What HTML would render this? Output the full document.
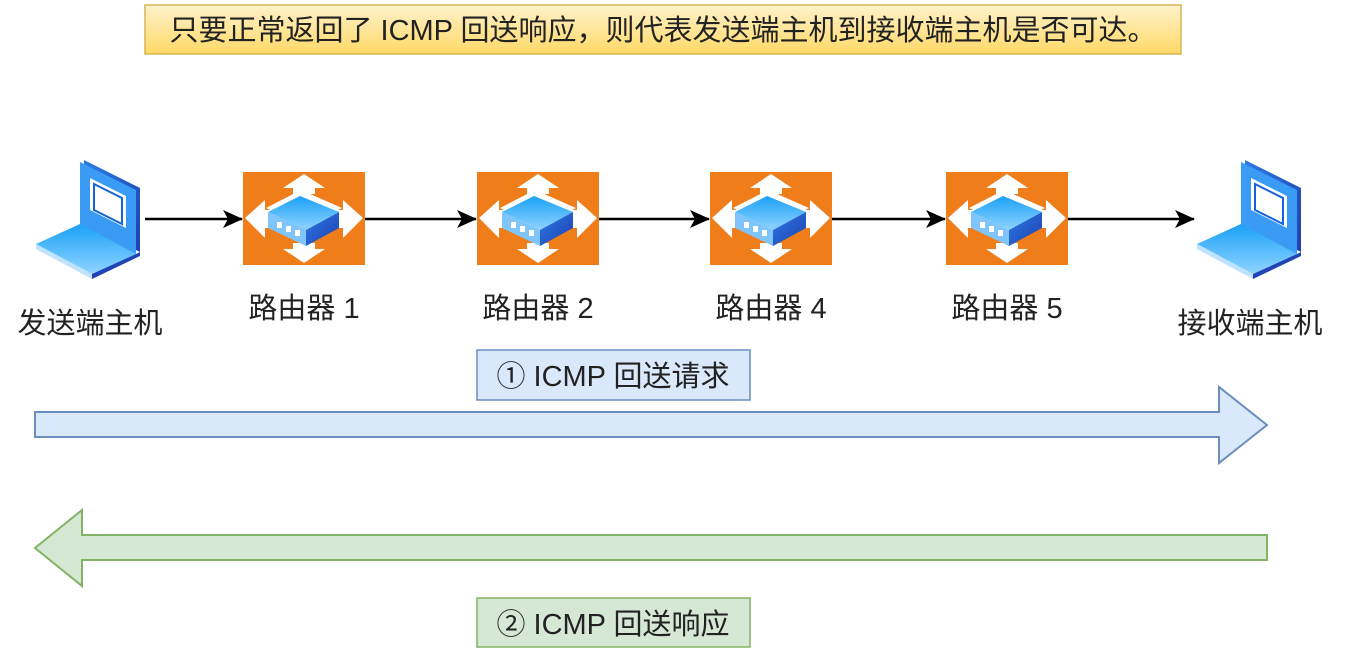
<!DOCTYPE html>
<html><head><meta charset="utf-8"><style>
html,body{margin:0;padding:0;background:#fff;}
svg{display:block;}
text{font-family:"Liberation Sans","Noto Sans CJK SC",sans-serif;fill:#222;}
</style></head><body>
<svg width="1350" height="652" viewBox="0 0 1350 652" xmlns="http://www.w3.org/2000/svg">
<defs>
<linearGradient id="yb" x1="0" y1="0" x2="0" y2="1"><stop offset="0" stop-color="#fff2cc"/><stop offset="1" stop-color="#ffd966"/></linearGradient>
<linearGradient id="bl" x1="0" y1="0" x2="0" y2="1"><stop offset="0" stop-color="#1ba1f7"/><stop offset="1" stop-color="#8fd3ff"/></linearGradient>
<linearGradient id="bd" x1="0" y1="0" x2="1" y2="1"><stop offset="0" stop-color="#2c7be5"/><stop offset="1" stop-color="#1f3fb0"/></linearGradient>
<g id="router">
<rect x="0" y="0" width="122" height="93" fill="#ef7d19"/>
<polygon points="61,2 82,16 72,16 72,22 50,22 50,16 40,16" fill="#fff"/>
<polygon points="61,91 82,77 72,77 72,71 50,71 50,77 40,77" fill="#fff"/>
<polygon points="2,46 22,28 22,38 34,38 34,56 22,56 22,66" fill="#fff"/>
<polygon points="120,46 100,28 100,38 88,38 88,56 100,56 100,66" fill="#fff"/>
<polygon points="23,36 58,18 99,36 62,56" fill="#fff"/>
<polygon points="23,42 58,20 99,40 62,62" fill="#fff"/>
<polygon points="25,40 57,24 96,40 63,58" fill="url(#bl)"/>
<polygon points="25,40 63,58 63,74 25,56" fill="#7fc4fb"/>
<polygon points="63,58 96,40 96,56 63,74" fill="url(#bd)"/>
<rect x="34" y="50" width="5" height="6" fill="#fff"/><rect x="43" y="54" width="5" height="6" fill="#fff"/><rect x="52" y="58" width="5" height="6" fill="#fff"/>
</g>
<g id="laptop">
<polygon points="48,2 104,30 104,94 48,66" fill="url(#bd)"/>
<polygon points="44,4 100,32 100,96 44,68" fill="#3a9bf5"/>
<polygon points="54,20 90,38 90,70 54,52" fill="#fff"/>
<polygon points="58,26 86,40 86,66 58,52" fill="#fff" stroke="#1565d8" stroke-width="2"/>
<polygon points="0,86 44,66 100,96 56,116" fill="url(#bl)"/>
<polygon points="0,86 56,116 56,121 0,91" fill="#bfe3ff"/>
<polygon points="56,116 100,96 104,94 104,98 56,121" fill="#2043b5"/>
</g>
<marker id="ah" markerWidth="20" markerHeight="18" refX="19" refY="9" orient="auto" markerUnits="userSpaceOnUse"><path d="M0,0 L20,9 L0,18 L5,9 Z" fill="#000"/></marker>
</defs>
<rect x="145" y="5" width="1036" height="49" fill="url(#yb)" stroke="#d6b656" stroke-width="1.5"/>
<text x="663" y="40" font-size="29" text-anchor="middle">只要正常返回了 ICMP 回送响应，则代表发送端主机到接收端主机是否可达。</text>

<use href="#laptop" x="36" y="158"/>
<use href="#laptop" x="1197" y="158"/>
<use href="#router" x="243" y="172"/>
<use href="#router" x="477" y="172"/>
<use href="#router" x="710" y="172"/>
<use href="#router" x="946" y="172"/>

<g stroke="#000" stroke-width="2.5" marker-end="url(#ah)">
<line x1="145" y1="219" x2="242" y2="219"/>
<line x1="365" y1="219" x2="476" y2="219"/>
<line x1="599" y1="219" x2="709" y2="219"/>
<line x1="832" y1="219" x2="945" y2="219"/>
<line x1="1068" y1="219" x2="1194" y2="219"/>
</g>

<g font-size="29">
<text x="90" y="333" text-anchor="middle">发送端主机</text>
<text x="304" y="318" text-anchor="middle">路由器 1</text>
<text x="538" y="318" text-anchor="middle">路由器 2</text>
<text x="771" y="318" text-anchor="middle">路由器 4</text>
<text x="1007" y="318" text-anchor="middle">路由器 5</text>
<text x="1250" y="333" text-anchor="middle">接收端主机</text>
</g>

<rect x="477" y="350" width="273" height="50" fill="#dae8fc" stroke="#6c8ebf" stroke-width="1.5"/>
<text x="613" y="386" font-size="29" text-anchor="middle">① ICMP 回送请求</text>
<polygon points="35,412 1219,412 1219,387 1267,425 1219,463 1219,437 35,437" fill="#dae8fc" stroke="#6c8ebf" stroke-width="2"/>

<polygon points="1267,535 82,535 82,510 35,548 82,586 82,560 1267,560" fill="#d5e8d4" stroke="#82b366" stroke-width="2"/>
<rect x="477" y="598" width="273" height="49" fill="#d5e8d4" stroke="#82b366" stroke-width="1.5"/>
<text x="613" y="634" font-size="29" text-anchor="middle">② ICMP 回送响应</text>
</svg>
</body></html>
